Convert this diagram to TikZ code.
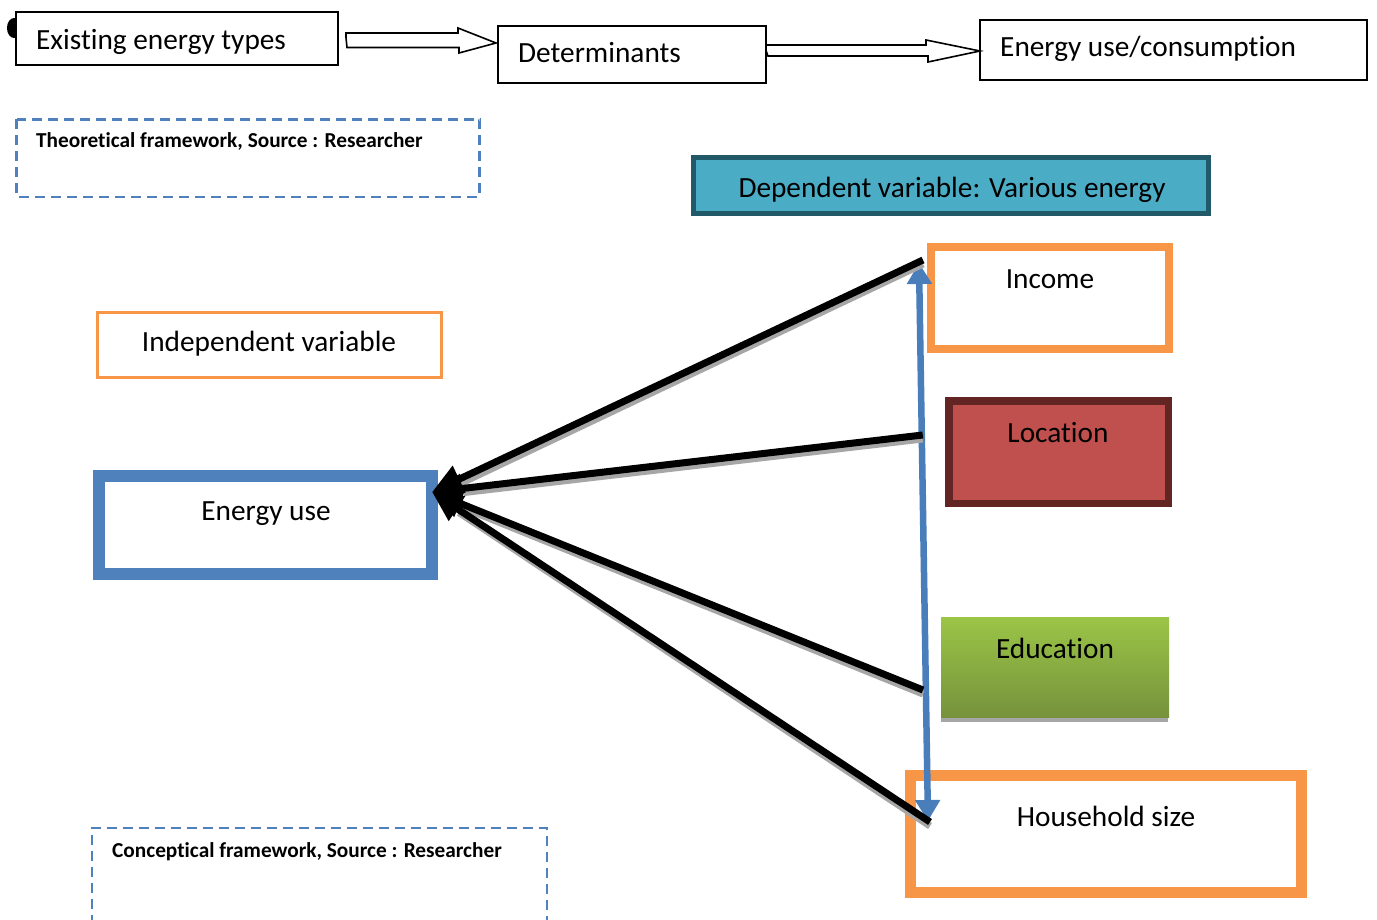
\documentclass[tikz,border=0pt]{standalone}
\usepackage{fontspec}
\setmainfont{Carlito}[Ligatures=NoCommon]
\usetikzlibrary{arrows.meta,calc}
\definecolor{orng}{HTML}{F79646}
\definecolor{blu}{HTML}{4F81BD}
\definecolor{bluarrow}{HTML}{4A7EBB}
\definecolor{tealf}{HTML}{4BACC6}
\definecolor{teald}{HTML}{215968}
\definecolor{redf}{HTML}{C0504D}
\definecolor{redd}{HTML}{632523}
\definecolor{gtop}{HTML}{9BC547}
\definecolor{gbot}{HTML}{76923C}
\definecolor{shad}{HTML}{A6A6A6}
\begin{document}
\begin{tikzpicture}[x=1pt,y=-1pt,
  big/.style={font=\fontsize{29.3}{35}\selectfont},
  small/.style={font=\fontsize{21.3}{25}\selectfont\bfseries},
  topbox/.style={draw=black, line width=2pt, fill=white, inner sep=0pt, outer sep=0pt},
  box/.style={inner sep=0pt, outer sep=0pt, anchor=center},
  lbl/.style={big, inner sep=0pt, anchor=base},
  lblw/.style={big, inner sep=0pt, anchor=base west},
  dashbox/.style={draw=blu, line width=2.5pt, dash pattern=on 10pt off 6pt},
  hollow/.style={draw=black, line width=1.6pt, fill=white, line join=miter},
  thick arrow/.style={draw=black, line width=7pt, -{Triangle[length=30pt,width=28pt]}},
  shadow line/.style={draw=shad, line width=7pt},
  blue arrow/.style={draw=bluarrow, line width=6.5pt, {Triangle[length=21pt,width=24pt]}-{Triangle[length=21pt,width=24pt]}}
]
\useasboundingbox (0,0) rectangle (1377,920);
\fill[white] (0,0) rectangle (1377,920);

% black dot behind first box
\fill[black] (14,28) ellipse [x radius=7, y radius=10];

% top row
\node[topbox, minimum width=322pt, minimum height=53pt] (types) at (177,38.5) {};
\node[lblw] (typesl) at (36,50) {Existing energy types};
\node[topbox, minimum width=268pt, minimum height=57pt] (det) at (632,54.5) {};
\node[lblw] (detl) at (518,63) {Determinants};
\node[topbox, minimum width=387pt, minimum height=60pt] (cons) at (1173.5,50) {};
\node[lblw] (consl) at (1000,57) {Energy use/consumption};

% hollow arrows
\coordinate (t1) at ($(det.north west)+(-2,17)$);
\path[hollow] ($(types.east)+(8,-1)$) -- ++(0,-4.5) -- ++(112,0) -- ++(0,-5) -- (t1)
  -- ++(-37,10) -- ++(0,-5.5) -- ++(-112,0) -- cycle;
\coordinate (t2) at ($(cons.west)+(0,1)$);
\path[hollow] ($(det.east)+(0,-4)$) -- ++(0,-5.5) -- ++(160,0) -- ++(0,-5) -- (t2)
  -- ++(-52,11) -- ++(0,-6) -- ++(-160,0) -- cycle;

% dashed frames
\draw[dashbox] (16.5,119.5) rectangle (479.5,197);
\node[small, anchor=base west, inner sep=0pt] (theo) at (36,148) {Theoretical framework, Source : Researcher};
\draw[dashbox] (92,925) -- (92,828) -- (547,828) -- (547,925);
\node[small, anchor=base west, inner sep=0pt] (conc) at (112,857) {Conceptical framework, Source : Researcher};

% dependent variable
\node[box, draw=teald, fill=tealf, line width=5pt, minimum width=515pt, minimum height=56pt] (dep) at (951,185.5) {};
\node[lbl] (depl) at (952,198) {Dependent variable: Various energy};

% right-side boxes
\node[box, draw=orng, fill=white, line width=8pt, minimum width=238pt, minimum height=102pt] (inc) at (1050,298) {};
\node[lbl] (incl) at (1050,289) {Income};
\node[box, draw=redd, fill=redf, line width=7.5pt, minimum width=219.5pt, minimum height=102.5pt] (loc) at (1058.5,452) {};
\node[lbl] (locl) at (1058,442) {Location};
\fill[shad] (941,712) rectangle (1168,722);
\node[box, top color=gtop, bottom color=gbot, minimum width=228pt, minimum height=100pt] (edu) at (1055,667) {};
\node[lbl] (edul) at (1055,658) {Education};
\node[box, draw=orng, fill=white, line width=11pt, minimum width=391pt, minimum height=117pt] (hh) at (1106,834) {};
\node[lbl] (hhl) at (1106,826) {Household size};

% left boxes
\node[box, draw=orng, fill=white, line width=3.5pt, minimum width=344pt, minimum height=65pt] (ind) at (269.5,345) {};
\node[lbl] (indl) at (269,352) {Independent variable};
\node[box, draw=blu, fill=white, line width=12pt, minimum width=333pt, minimum height=98pt] (eu) at (265.5,525) {};
\node[lbl] (eul) at (266,520) {Energy use};

% connector coordinates
\coordinate (tip) at ($(eu.north east)+(0,16)$);
\coordinate (s1) at ($(inc.west)+(-8,-38)$);
\coordinate (s2) at ($(loc.west)+(-26,-17)$);
\coordinate (s3) at ($(edu.west)+(-18,23)$);
\coordinate (s4) at ($(hh.west)+(19.5,-12)$);
\coordinate (b1) at ($(inc.west)+(-12,-35)$);
\coordinate (b2) at ($(hh.west)+(17.5,-13)$);

% blue double arrow
\draw[blue arrow] (b1) -- (b2);

% shadows then black arrows
\foreach \s in {s1,s2,s3,s4}{
  \draw[shadow line] ($(\s)+(0,4)$) -- ($(tip)!30pt!(\s)+(2,4)$);
}
\foreach \s in {s1,s2,s3,s4}{
  \draw[thick arrow] (\s) -- (tip);
}
\end{tikzpicture}
\end{document}
